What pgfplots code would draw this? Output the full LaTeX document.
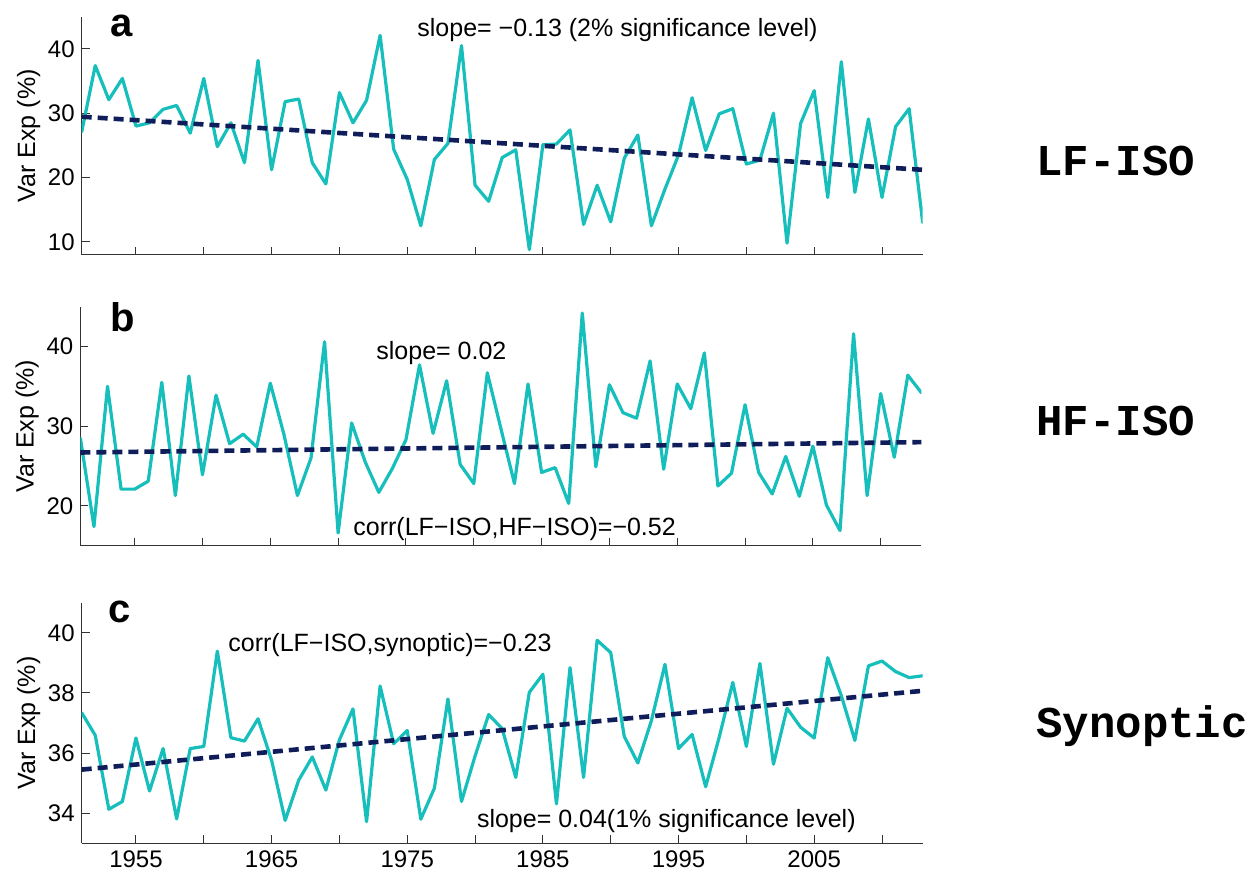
\documentclass[border=0pt]{standalone}
\usepackage{pgfplots}
\pgfplotsset{compat=1.18}
\usepackage{fontspec}
\setmainfont{Liberation Sans}
\newfontfamily\monob{Liberation Mono}
\definecolor{teal1}{RGB}{22,190,188}
\definecolor{navy1}{RGB}{15,30,90}
\pgfplotsset{
  panel/.style={
    scale only axis, width=420.5pt, height=119.5pt,
    xmin=1951, xmax=2013,
    axis x line*=bottom, axis y line*=left,
    tick align=inside, major tick length=4pt,
    xtick={1955,1960,...,2010},
    axis line style={line width=0.5pt, black!80},
    tick style={line width=0.5pt, black!80},
    ylabel={Var Exp (\%)},
    tick label style={font=\fontsize{12}{14}\selectfont},
    label style={font=\fontsize{12.5}{15}\selectfont},
    ylabel style={yshift=-3pt},
    /pgf/number format/assume math mode=true,
    anchor=north west,
  },
  ser/.style={teal1, line width=1.6pt, line join=round, line cap=round},
  trend/.style={navy1, line width=2.3pt, dash pattern=on 5pt off 3pt},
}
\begin{document}
\begin{tikzpicture}
\useasboundingbox (0,0) rectangle (627.5pt,-437pt);
% ---------- a ----------
\begin{axis}[panel, at={(40.85pt,-8.35pt)}, height=119pt,
  ymin=8, ymax=45, ytick={10,20,30,40}, xticklabels={}]
\addplot[ser] table {
1951 27.1
1952 37.4
1953 32.1
1954 35.4
1955 28.0
1956 28.5
1957 30.6
1958 31.2
1959 26.9
1960 35.4
1961 24.8
1962 28.5
1963 22.3
1964 38.2
1965 21.2
1966 31.8
1967 32.2
1968 22.3
1969 19.0
1970 33.2
1971 28.5
1972 32.0
1973 42.1
1974 24.4
1975 19.7
1976 12.5
1977 22.8
1978 25.3
1979 40.5
1980 18.8
1981 16.3
1982 23.1
1983 24.3
1984 8.8
1985 25.1
1986 25.2
1987 27.4
1988 12.7
1989 18.8
1990 13.1
1991 23.0
1992 26.6
1993 12.5
1994 18.2
1995 23.5
1996 32.4
1997 24.2
1998 29.9
1999 30.7
2000 22.1
2001 22.7
2002 30.0
2003 9.8
2004 28.4
2005 33.5
2006 16.9
2007 38.0
2008 17.7
2009 29.1
2010 16.9
2011 27.9
2012 30.7
2013 13.0
};
\addplot[trend] coordinates {(1951,29.45) (2013,21.2)};
\end{axis}
% ---------- b ----------
\begin{axis}[panel, at={(40.2pt,-153.35pt)},
  ymin=15, ymax=45, ytick={20,30,40}, xticklabels={}]
\addplot[ser] table {
1951 28.5
1952 17.4
1953 35.0
1954 22.1
1955 22.1
1956 23.1
1957 35.5
1958 21.3
1959 36.3
1960 23.9
1961 33.9
1962 27.8
1963 29.0
1964 27.4
1965 35.4
1966 29.0
1967 21.3
1968 26.0
1969 40.6
1970 16.6
1971 30.4
1972 25.5
1973 21.7
1974 24.7
1975 28.3
1976 37.7
1977 29.1
1978 35.7
1979 25.2
1980 22.8
1981 36.7
1982 29.7
1983 22.8
1984 35.3
1985 24.2
1986 24.8
1987 20.3
1988 44.2
1989 24.9
1990 35.2
1991 31.7
1992 31.0
1993 38.2
1994 24.6
1995 35.3
1996 32.2
1997 39.2
1998 22.5
1999 24.1
2000 32.7
2001 24.2
2002 21.5
2003 26.2
2004 21.2
2005 27.5
2006 20.1
2007 16.9
2008 41.6
2009 21.3
2010 34.1
2011 26.1
2012 36.4
2013 34.2
};
\addplot[trend] coordinates {(1951,26.7) (2013,28.0)};
\end{axis}
% ---------- c ----------
\begin{axis}[panel, at={(40.85pt,-301.35pt)}, height=120.3pt,
  ymin=33, ymax=41, ytick={34,36,38,40},
  xticklabels={1955,,1965,,1975,,1985,,1995,,2005,}]
\addplot[ser] table {
1951 37.34
1952 36.59
1953 34.13
1954 34.39
1955 36.50
1956 34.74
1957 36.15
1958 33.81
1959 36.15
1960 36.22
1961 39.39
1962 36.51
1963 36.40
1964 37.14
1965 35.76
1966 33.76
1967 35.10
1968 35.87
1969 34.77
1970 36.44
1971 37.47
1972 33.72
1973 38.23
1974 36.31
1975 36.75
1976 33.80
1977 34.83
1978 37.80
1979 34.39
1980 35.90
1981 37.28
1982 36.81
1983 35.19
1984 38.02
1985 38.62
1986 34.31
1987 38.84
1988 35.19
1989 39.75
1990 39.34
1991 36.55
1992 35.67
1993 37.08
1994 38.95
1995 36.15
1996 36.62
1997 34.88
1998 36.53
1999 38.35
2000 36.22
2001 38.98
2002 35.63
2003 37.49
2004 36.86
2005 36.50
2006 39.17
2007 37.91
2008 36.42
2009 38.90
2010 39.06
2011 38.71
2012 38.51
2013 38.57
};
\addplot[trend] coordinates {(1951,35.45) (2013,38.07)};
\end{axis}
% ---------- annotations ----------
\begin{scope}[every node/.style={inner sep=0pt, anchor=base west}]
\node[font=\fontsize{20}{24}\selectfont\bfseries] at (55pt,-18pt) {a};
\node[font=\fontsize{12.5}{15}\selectfont] at (208.5pt,-18pt) {slope= −0.13 (2\% significance level)};
\node[font=\fontsize{20}{24}\selectfont\bfseries] at (55pt,-165.8pt) {b};
\node[font=\fontsize{12.5}{15}\selectfont] at (188pt,-179.5pt) {slope= 0.02};
\node[font=\fontsize{12.5}{15}\selectfont] at (176.5pt,-267.5pt) {corr(LF−ISO,HF−ISO)=−0.52};
\node[font=\fontsize{20}{24}\selectfont\bfseries] at (54pt,-311.3pt) {c};
\node[font=\fontsize{12.5}{15}\selectfont] at (114pt,-325.8pt) {corr(LF−ISO,synoptic)=−0.23};
\node[font=\fontsize{12.5}{15}\selectfont] at (238.3pt,-413.5pt) {slope= 0.04(1\% significance level)};
\node[font=\fontsize{22}{26}\selectfont\monob\bfseries] at (518pt,-87.5pt) {LF-ISO};
\node[font=\fontsize{22}{26}\selectfont\monob\bfseries] at (518pt,-217.5pt) {HF-ISO};
\node[font=\fontsize{22}{26}\selectfont\monob\bfseries] at (518pt,-368.5pt) {Synoptic};
\end{scope}
\end{tikzpicture}
\end{document}
